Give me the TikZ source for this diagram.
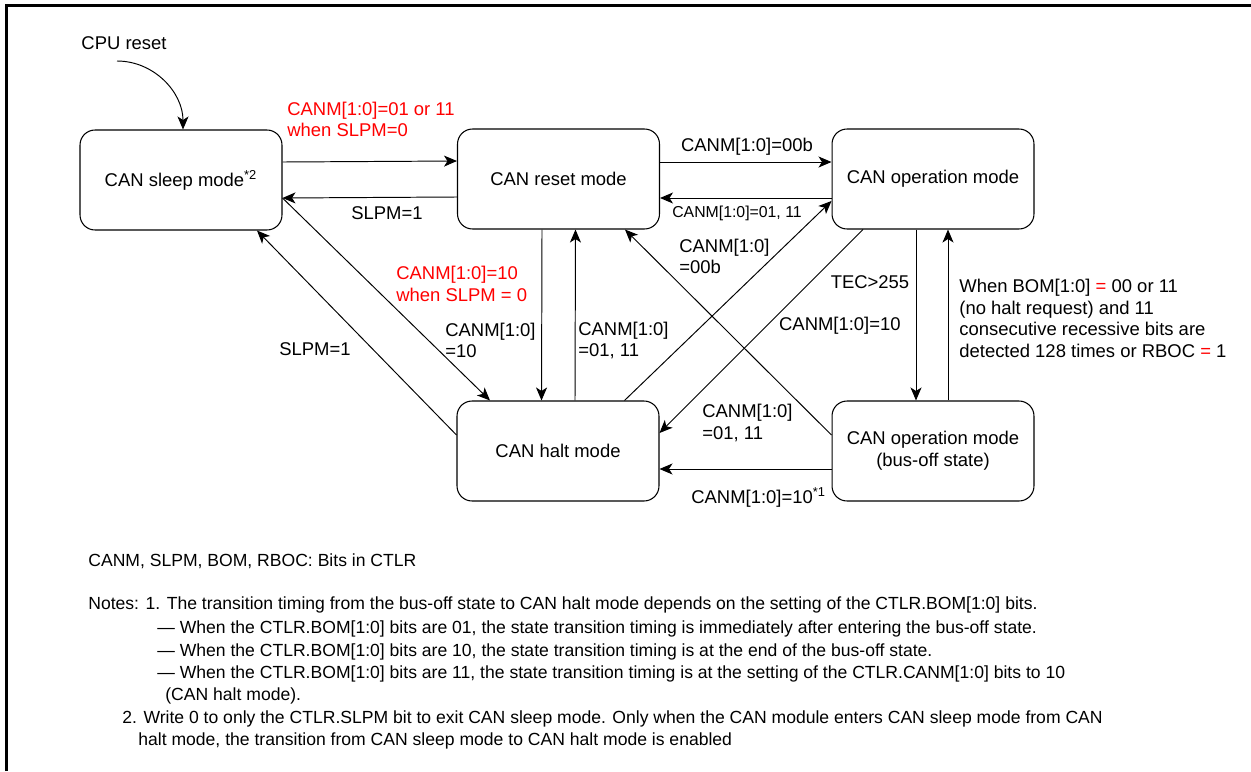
\documentclass[tikz,border=0pt]{standalone}
\usepackage{fontspec}
\setmainfont{Liberation Sans}
\usetikzlibrary{arrows.meta}
\definecolor{canred}{RGB}{255,0,0}
\tikzset{
  state/.style={draw, rounded corners=0.3cm, minimum width=4.04cm, minimum height=2cm,
    line width=0.6pt, align=center, font=\fontsize{10.5}{12.4}\selectfont},
  trans/.style={->, line width=0.55pt},
  lbl/.style={inner sep=0pt, align=left, font=\fontsize{10.5}{12.4}\selectfont},
  redlbl/.style={lbl, text=canred},
  smalllbl/.style={inner sep=0pt, font=\fontsize{9}{11}\selectfont},
  note/.style={inner sep=0pt, anchor=base west, font=\fontsize{10}{12}\selectfont},
  >={Stealth[length=0.26cm,width=0.22cm,inset=0.07cm]}
}
\begin{document}
\begin{tikzpicture}[x=0.02cm,y=-0.02cm]
  \useasboundingbox (0,0) rectangle (1251,771);
  \draw[line width=0.05cm] (6.3,771) -- (6.3,5.3) -- (1251,5.3);

  % states
  \node[state] (sleep)  at (181,180)   {CAN sleep mode\textsuperscript{*2}};
  \node[state] (reset)  at (558.5,179) {CAN reset mode};
  \node[state] (oper)   at (933,179)   {CAN operation mode};
  \node[state] (halt)   at (558,451)   {CAN halt mode};
  \node[state] (busoff) at (933,451)   {CAN operation mode\\(bus-off state)};

  \node[lbl] (cpu) at (124,43) {CPU reset};
  \coordinate (cpustart) at (117,61);
  \draw[trans] (cpustart) to[out=0,in=90] ([xshift=0.04cm]sleep.north);

  % top row
  \draw[trans] ([yshift=0.36cm]sleep.east) -- ([yshift=0.36cm]reset.west);
  \draw[trans] ([yshift=-0.36cm]reset.west) -- ([yshift=-0.36cm]sleep.east);
  \draw[trans] ([yshift=0.34cm]reset.east) -- ([yshift=0.34cm]oper.west);
  \draw[trans] ([yshift=-0.38cm]oper.west) -- ([yshift=-0.38cm]reset.east);
  \node[redlbl, anchor=west] (l1) at (287,119.5) {CANM[1:0]=01 or 11\\when SLPM=0};
  \node[lbl, anchor=base] (l2) at (387,219.5) {SLPM=1};
  \node[lbl, anchor=base] (l3) at (747,151.5) {CANM[1:0]=00b};
  \node[smalllbl, anchor=base] (l4) at (737,217.5) {CANM[1:0]=01, 11};

  % verticals
  \draw[trans] ([xshift=-0.33cm]reset.south) -- ([xshift=-0.33cm]halt.north);
  \draw[trans] ([xshift=0.34cm]halt.north) -- ([xshift=0.34cm]reset.south);
  \draw[trans] ([xshift=-0.34cm]oper.south) -- ([xshift=-0.34cm]busoff.north);
  \draw[trans] ([xshift=0.3cm]busoff.north) -- ([xshift=0.3cm]oper.south);
  \draw[trans] ([yshift=-0.36cm]busoff.west) -- ([yshift=-0.36cm]halt.east);

  % diagonals
  \draw[trans] ([yshift=-0.36cm]sleep.east) -- ([xshift=-1.36cm]halt.north);
  \draw[trans] ([yshift=0.32cm]halt.west) -- ([xshift=1.52cm]sleep.south);
  \draw[trans] ([yshift=0.32cm]busoff.west) -- ([xshift=1.33cm]reset.south);
  \draw[trans] ([xshift=1.33cm]halt.north) -- ([yshift=-0.44cm]oper.west);
  \draw[trans] ([xshift=-1.4cm]oper.south) -- ([yshift=0.36cm]halt.east);

  \node[redlbl, anchor=west] (l5) at (396,284) {CANM[1:0]=10\\when SLPM = 0};
  \node[lbl, anchor=west] (l6) at (445,340.5) {CANM[1:0]\\=10};
  \node[lbl, anchor=west] (l7) at (578,340.5) {CANM[1:0]\\=01, 11};
  \node[lbl, anchor=west] (l8) at (679,256.5) {CANM[1:0]\\=00b};
  \node[lbl, anchor=base] (l9) at (870,288.5) {TEC>255};
  \node[lbl, anchor=base east] (l10) at (901,330.5) {CANM[1:0]=10};
  \node[lbl, anchor=west] (l11) at (959,318.5) {When BOM[1:0] \textcolor{canred}{=} 00 or 11\\(no halt request) and 11\\consecutive recessive bits are\\detected 128 times or RBOC \textcolor{canred}{=} 1};
  \node[lbl, anchor=base] (l12) at (315,355.5) {SLPM=1};
  \node[lbl, anchor=west] (l13) at (702,423) {CANM[1:0]\\=01, 11};
  \node[lbl, anchor=base west] (l14) at (691,503.5) {CANM[1:0]=10\textsuperscript{*1}};

  % notes
  \node[note] (n1) at (88,566) {CANM, SLPM, BOM, RBOC: Bits in CTLR};
  \node[note] (n2) at (88,609) {Notes: 1. The transition timing from the bus-off state to CAN halt mode depends on the setting of the CTLR.BOM[1:0] bits.};
  \node[note] (n3) at (157,633) {\textemdash\ When the CTLR.BOM[1:0] bits are 01, the state transition timing is immediately after entering the bus-off state.};
  \node[note] (n4) at (157,656) {\textemdash\ When the CTLR.BOM[1:0] bits are 10, the state transition timing is at the end of the bus-off state.};
  \node[note] (n5) at (157,678) {\textemdash\ When the CTLR.BOM[1:0] bits are 11, the state transition timing is at the setting of the CTLR.CANM[1:0] bits to 10};
  \node[note] (n6) at (165,700) {(CAN halt mode).};
  \node[note] (n7) at (122,723) {2. Write 0 to only the CTLR.SLPM bit to exit CAN sleep mode. Only when the CAN module enters CAN sleep mode from CAN};
  \node[note] (n8) at (138,745) {halt mode, the transition from CAN sleep mode to CAN halt mode is enabled};
\end{tikzpicture}
\end{document}
